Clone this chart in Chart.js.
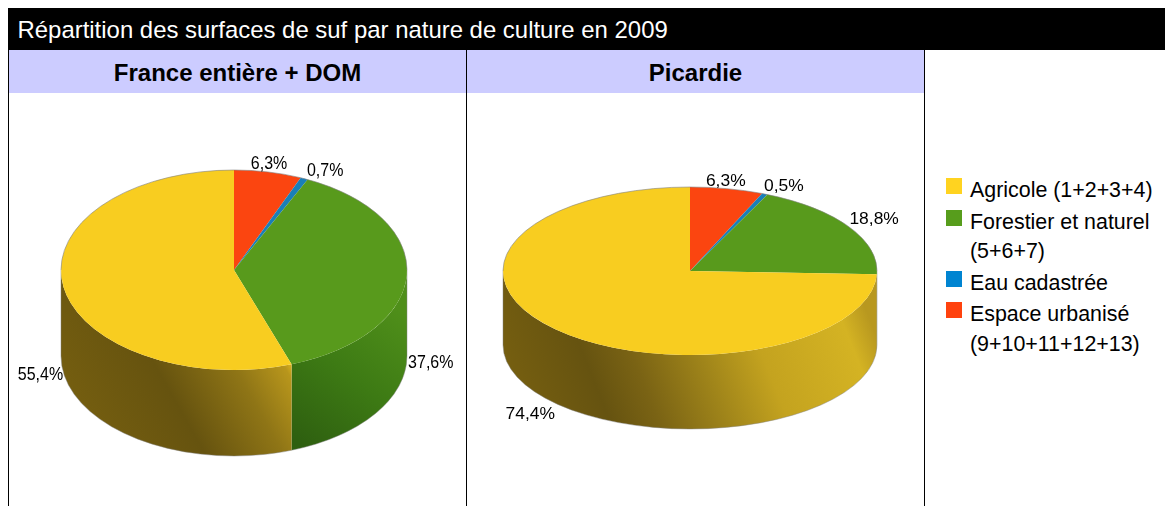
<!DOCTYPE html>
<html lang="fr">
<head>
<meta charset="utf-8">
<script src="https://cdn.jsdelivr.net/npm/chart.js@4/dist/chart.umd.min.js"></script>
<style>
html,body{margin:0;padding:0;background:#fff;overflow:hidden;width:1165px;height:506px;font-family:"Liberation Sans",Arial,sans-serif;}
#title{position:absolute;left:8px;top:8px;width:1157px;height:42px;background:#000;color:#fff;font-size:23.93px;line-height:44px;text-indent:9.5px;white-space:nowrap;}
.head{position:absolute;top:50px;height:43px;background:#ccccff;color:#000;font-weight:bold;font-size:24px;line-height:46px;text-align:center;}
.rule{position:absolute;top:50px;width:1px;height:456px;background:#000;}
.box{position:absolute;top:50px;width:457px;height:456px;}
#legend{position:absolute;left:946px;top:176px;width:219px;font-size:21.4px;color:#000;}
.item{position:relative;padding-left:24px;line-height:29.6px;margin-bottom:2px;white-space:nowrap;}
.swatch{position:absolute;left:0;top:2px;width:16px;height:16px;}
</style>
</head>
<body>
<div id="title">Répartition des surfaces de suf par nature de culture en 2009</div>
<div class="head" style="left:9px;width:457px">France entière + DOM</div>
<div class="head" style="left:467px;width:457px">Picardie</div>
<div class="rule" style="left:8px"></div>
<div class="rule" style="left:466px"></div>
<div class="rule" style="left:924px"></div>
<div class="box" style="left:9px"><canvas id="c1" width="457" height="456"></canvas></div>
<div class="box" style="left:467px"><canvas id="c2" width="457" height="456"></canvas></div>
<div id="legend"></div>
<script>
const categories = ["Agricole (1+2+3+4)", "Forestier et naturel (5+6+7)", "Eau cadastrée", "Espace urbanisé (9+10+11+12+13)"];
const legendLines = [["Agricole (1+2+3+4)"], ["Forestier et naturel", "(5+6+7)"], ["Eau cadastrée"], ["Espace urbanisé", "(9+10+11+12+13)"]];
const franceValues = [55.4, 37.6, 0.7, 6.3];
const picardieValues = [74.4, 18.8, 0.5, 6.3];
const pieColors = ["#f8cd20", "#589a1c", "#1a7fb8", "#fb4510"];
const legendColors = ["#ffd320", "#579d1c", "#0084d1", "#ff420e"];

const charts = [
  { id: "c1", values: franceValues, squash: 100 / 173, depth: 86, textScale: [1, 1.19],
    padding: { left: 52, right: 59, top: 47, bottom: 63 },
    labelShift: [[-23, 88], [24, 88], [21, -8], [1, -8]],
    walls: [
      { line: [58, 90, -154, 210], stops: [[0, "#e4ba20"], [.04, "#b8961c"], [.22, "#8f7516"], [.5, "#66530f"], [1, "#7a6210"]] },
      { line: [166, 40, 66, 175], stops: [[0, "#4f8f1a"], [.5, "#3d7a14"], [1, "#2e5f10"]] },
      null, null
    ] },
  { id: "c2", values: picardieValues, squash: 84 / 187, depth: 74, textScale: [1.09, 1],
    padding: { left: 36, right: 47, top: 34, bottom: 48 },
    labelShift: [[-25, 85], [25, -7], [19, -7], [-1, -7]],
    walls: [
      { line: [180, 49, -170, 189], stops: [[0, "#b8981f"], [.07, "#d4b323"], [.3, "#c4a31f"], [.45, "#a0851a"], [.62, "#7a6314"], [.74, "#665310"], [1, "#7a6210"]] },
      { line: [180, 49, 100, 120], stops: [[0, "#3f7f14"], [1, "#3f7f14"]] },
      null, null
    ] }
];

const pie3d = {
  id: "pie3d",
  beforeDatasetsDraw(chart) {
    const cfg = chart.options.plugins.pie3d, ctx = chart.ctx;
    const arcs = chart.getDatasetMeta(0).data;
    const { x: cx, y: cy, outerRadius: rx } = arcs[0].getProps(["x", "y", "outerRadius"], true);
    const ry = rx * cfg.squash, d = cfg.depth;
    arcs.forEach((arc, i) => {
      const wall = cfg.walls[cfg.walls.length - 1 - i];
      if (!wall) return;
      const a0 = Math.max(arc.startAngle, 0), a1 = Math.min(arc.endAngle, Math.PI);
      if (a1 <= a0) return;
      const g = ctx.createLinearGradient(cx + wall.line[0], cy + wall.line[1], cx + wall.line[2], cy + wall.line[3]);
      wall.stops.forEach(s => g.addColorStop(s[0], s[1]));
      ctx.beginPath();
      ctx.ellipse(cx, cy, rx, ry, 0, a0, a1);
      ctx.ellipse(cx, cy + d, rx, ry, 0, a1, a0, true);
      ctx.closePath();
      ctx.fillStyle = g;
      ctx.fill();
    });
    // wall edges
    ctx.beginPath();
    ctx.moveTo(cx - rx, cy);
    ctx.lineTo(cx - rx, cy + d);
    ctx.ellipse(cx, cy + d, rx, ry, 0, Math.PI, 0, true);
    ctx.lineTo(cx + rx, cy);
    ctx.strokeStyle = "rgba(130,130,130,.45)";
    ctx.lineWidth = 1;
    ctx.stroke();
    ctx.save();
    ctx.translate(cx, cy);
    ctx.scale(1, cfg.squash);
    ctx.translate(-cx, -cy);
  },
  afterDatasetsDraw(chart) {
    const cfg = chart.options.plugins.pie3d, ctx = chart.ctx;
    ctx.restore();
    const arcs = chart.getDatasetMeta(0).data;
    const { x: cx, y: cy, outerRadius: rx } = arcs[0].getProps(["x", "y", "outerRadius"], true);
    const ry = rx * cfg.squash;
    ctx.beginPath();
    ctx.ellipse(cx, cy, rx, ry, 0, Math.PI, 2 * Math.PI);
    ctx.strokeStyle = "rgba(130,130,130,.6)";
    ctx.lineWidth = 1;
    ctx.stroke();
    // percentage labels
    const values = chart.data.datasets[0].data;
    ctx.fillStyle = "#000";
    ctx.textAlign = "center";
    ctx.textBaseline = "middle";
    ctx.font = '16px "Liberation Sans", Arial, sans-serif';
    arcs.forEach((arc, i) => {
      const mid = (arc.startAngle + arc.endAngle) / 2;
      const shift = cfg.labelShift[cfg.labelShift.length - 1 - i];
      ctx.save();
      ctx.translate(cx + rx * Math.cos(mid) + shift[0], cy + ry * Math.sin(mid) + shift[1]);
      ctx.scale(cfg.textScale[0], cfg.textScale[1]);
      ctx.fillText(values[i].toFixed(1).replace(".", ",") + "%", 0, 0);
      ctx.restore();
    });
  }
};

charts.forEach(c => {
  new Chart(document.getElementById(c.id), {
    type: "pie",
    data: {
      labels: categories.slice().reverse(),
      datasets: [{
        data: c.values.slice().reverse(),
        backgroundColor: pieColors.slice().reverse(),
        borderWidth: 0,
        clip: false
      }]
    },
    options: {
      responsive: false,
      animation: false,
      layout: { padding: c.padding },
      plugins: {
        legend: { display: false },
        tooltip: { enabled: false },
        pie3d: { squash: c.squash, depth: c.depth, walls: c.walls, labelShift: c.labelShift, textScale: c.textScale }
      }
    },
    plugins: [pie3d]
  });
});

const legend = document.getElementById("legend");
legendLines.forEach((lines, i) => {
  const item = document.createElement("div");
  item.className = "item";
  const sw = document.createElement("span");
  sw.className = "swatch";
  sw.style.background = legendColors[i];
  item.appendChild(sw);
  item.appendChild(document.createTextNode(lines[0]));
  for (let k = 1; k < lines.length; k++) {
    item.appendChild(document.createElement("br"));
    item.appendChild(document.createTextNode(lines[k]));
  }
  legend.appendChild(item);
});
</script>
</body>
</html>
